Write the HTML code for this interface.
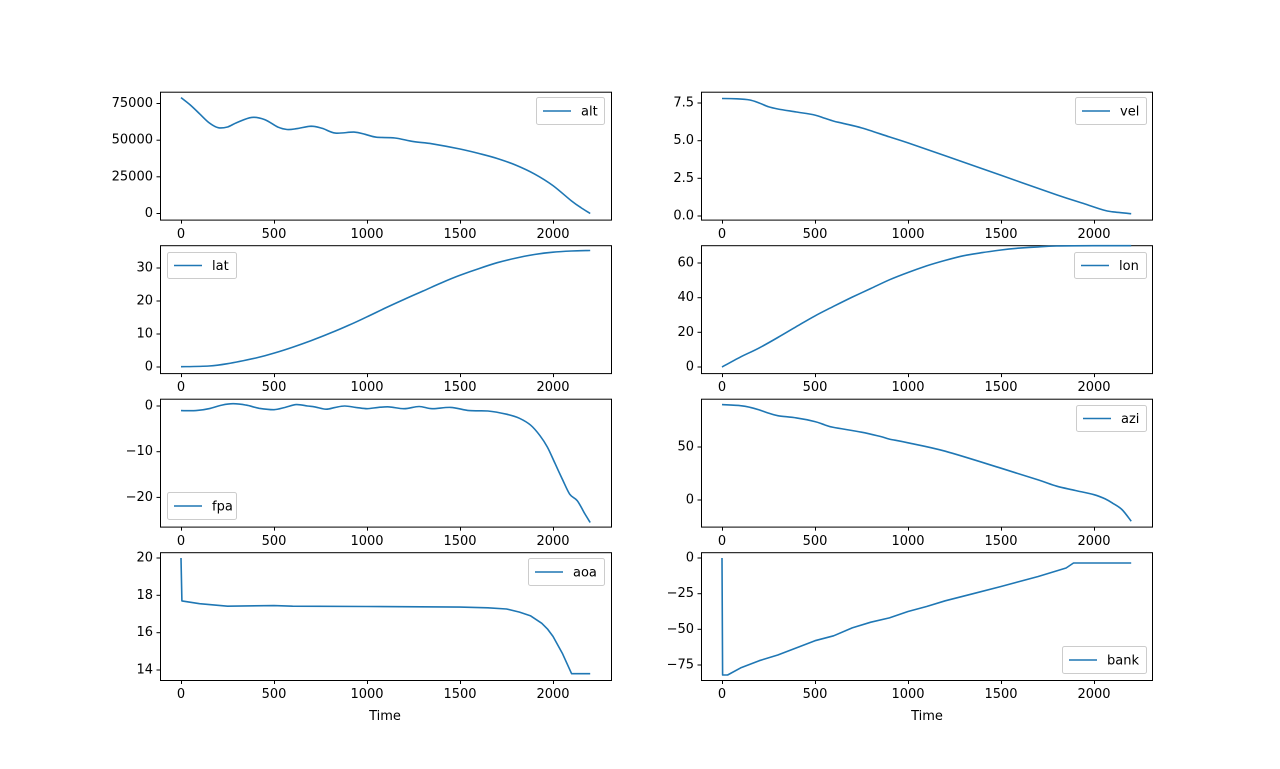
<!DOCTYPE html>
<html><head><meta charset="utf-8"><style>
body{margin:0;background:#fff}
svg text{font-family:"DejaVu Sans","Liberation Sans",sans-serif;font-size:13px;fill:#000}
.yl{text-anchor:end;dominant-baseline:middle}
.xl{text-anchor:middle}
</style></head><body>
<svg id="s" width="1280" height="764" xmlns="http://www.w3.org/2000/svg">
<g id="frames" fill="none" stroke="#000" stroke-width="1"></g>
<g id="ticks" stroke="#000" stroke-width="1"></g>
<g id="lines" fill="none" stroke="#1f77b4" stroke-width="1.6" stroke-linejoin="round"></g>
<g class="xl">
<text x="181" y="238" class="xl">0</text><text x="274" y="238" class="xl">500</text><text x="367" y="238" class="xl">1000</text><text x="460" y="238" class="xl">1500</text><text x="553" y="238" class="xl">2000</text>
<text x="722" y="238" class="xl">0</text><text x="815" y="238" class="xl">500</text><text x="908" y="238" class="xl">1000</text><text x="1001" y="238" class="xl">1500</text><text x="1094" y="238" class="xl">2000</text>
<text x="181" y="391" class="xl">0</text><text x="274" y="391" class="xl">500</text><text x="367" y="391" class="xl">1000</text><text x="460" y="391" class="xl">1500</text><text x="553" y="391" class="xl">2000</text>
<text x="722" y="391" class="xl">0</text><text x="815" y="391" class="xl">500</text><text x="908" y="391" class="xl">1000</text><text x="1001" y="391" class="xl">1500</text><text x="1094" y="391" class="xl">2000</text>
<text x="181" y="545" class="xl">0</text><text x="274" y="545" class="xl">500</text><text x="367" y="545" class="xl">1000</text><text x="460" y="545" class="xl">1500</text><text x="553" y="545" class="xl">2000</text>
<text x="722" y="545" class="xl">0</text><text x="815" y="545" class="xl">500</text><text x="908" y="545" class="xl">1000</text><text x="1001" y="545" class="xl">1500</text><text x="1094" y="545" class="xl">2000</text>
<text x="181" y="698" class="xl">0</text><text x="274" y="698" class="xl">500</text><text x="367" y="698" class="xl">1000</text><text x="460" y="698" class="xl">1500</text><text x="553" y="698" class="xl">2000</text>
<text x="722" y="698" class="xl">0</text><text x="815" y="698" class="xl">500</text><text x="908" y="698" class="xl">1000</text><text x="1001" y="698" class="xl">1500</text><text x="1094" y="698" class="xl">2000</text>
</g>
<text x="385" y="720" class="xl">Time</text><text x="927" y="720" class="xl">Time</text>
<text x="153" y="213.5" class="yl">0</text><text x="153" y="176.8" class="yl">25000</text><text x="153" y="140.2" class="yl">50000</text><text x="153" y="103.5" class="yl">75000</text>
<text x="694" y="216" class="yl">0.0</text><text x="694" y="178.3" class="yl">2.5</text><text x="694" y="140.7" class="yl">5.0</text><text x="694" y="103" class="yl">7.5</text>
<text x="153" y="367" class="yl">0</text><text x="153" y="334" class="yl">10</text><text x="153" y="301" class="yl">20</text><text x="153" y="268" class="yl">30</text>
<text x="694" y="367" class="yl">0</text><text x="694" y="332.3" class="yl">20</text><text x="694" y="297.7" class="yl">40</text><text x="694" y="263" class="yl">60</text>
<text x="153" y="406" class="yl">0</text><text x="153" y="451.7" class="yl">−10</text><text x="153" y="497.4" class="yl">−20</text>
<text x="694" y="500" class="yl">0</text><text x="694" y="447" class="yl">50</text>
<text x="153" y="670" class="yl">14</text><text x="153" y="632.7" class="yl">16</text><text x="153" y="595.3" class="yl">18</text><text x="153" y="558" class="yl">20</text>
<text x="694" y="558" class="yl">0</text><text x="694" y="593.7" class="yl">−25</text><text x="694" y="629.3" class="yl">−50</text><text x="694" y="665" class="yl">−75</text>
<g fill="#fff" stroke="#ccc" stroke-width="1">
<rect x="536.5" y="97.5" width="68" height="27" rx="2"/>
<rect x="1075.5" y="97.5" width="71" height="27" rx="2"/>
<rect x="167.5" y="252.5" width="69" height="26" rx="2"/>
<rect x="1074.5" y="252.5" width="72" height="26" rx="2"/>
<rect x="167.5" y="492.5" width="69" height="27" rx="2"/>
<rect x="1076.5" y="405.5" width="70" height="26" rx="2"/>
<rect x="528.5" y="558.5" width="76" height="27" rx="2"/>
<rect x="1062.5" y="646.5" width="84" height="27" rx="2"/>
</g>
<g stroke="#1f77b4" stroke-width="1.6">
<line x1="543" y1="111" x2="571" y2="111"/>
<line x1="1082" y1="111" x2="1110" y2="111"/>
<line x1="174" y1="265.5" x2="202" y2="265.5"/>
<line x1="1081" y1="265.5" x2="1109" y2="265.5"/>
<line x1="174" y1="506" x2="202" y2="506"/>
<line x1="1083" y1="418.5" x2="1111" y2="418.5"/>
<line x1="535" y1="572" x2="563" y2="572"/>
<line x1="1069" y1="660" x2="1097" y2="660"/>
</g>
<text x="581" y="115.5">alt</text>
<text x="1120" y="115.5">vel</text>
<text x="212" y="270">lat</text>
<text x="1119" y="270">lon</text>
<text x="212" y="510.5">fpa</text>
<text x="1121" y="423">azi</text>
<text x="573" y="576.5">aoa</text>
<text x="1107" y="664.5">bank</text>
</svg>
<script>
var ns="http://www.w3.org/2000/svg";
var rows=[[91.7,219.6],[245.2,373.1],[398.7,526.6],[552.2,680]];
var cols=[[160,611],[701,1152]];
var F=document.getElementById('frames'),T=document.getElementById('ticks'),L=document.getElementById('lines');
function el(p,t,a){var e=document.createElementNS(ns,t);for(var k in a)e.setAttribute(k,a[k]);p.appendChild(e);return e;}
var yt={ '0,0':[213.5,176.8,140.2,103.5],'0,1':[216,178.3,140.7,103],'1,0':[367,334,301,268],'1,1':[367,332.3,297.7,263],'2,0':[406,451.7,497.4],'2,1':[500,447],'3,0':[670,632.7,595.3,558],'3,1':[558,593.7,629.3,665]};
for(var r=0;r<4;r++)for(var c=0;c<2;c++){
 var R=rows[r],C=cols[c];
 el(F,'rect',{x:C[0]+.5,y:R[0]+.5,width:C[1]-C[0],height:R[1]-R[0]});
 var x0=c?722:181;
 for(var i=0;i<5;i++){var x=x0+i*93+.5;el(T,'line',{x1:x,x2:x,y1:R[1]+.5,y2:R[1]+4});}
 yt[r+','+c].forEach(function(y){el(T,'line',{x1:C[0]-3.5,x2:C[0]+.5,y1:y,y2:y});});
}
function plot(c,y0,v0,y1,v1,d,smooth){
 var x0=c?722:181,s=(y1-y0)/(v1-v0);
 var P=d.map(function(p){return [x0+p[0]*0.186,y0+(p[1]-v0)*s]});
 var dd='M'+P[0][0].toFixed(1)+','+P[0][1].toFixed(1);
 for(var i=0;i<P.length-1;i++){
  if(!smooth){dd+=' L'+P[i+1][0].toFixed(1)+','+P[i+1][1].toFixed(1);continue;}
  var p0=P[Math.max(i-1,0)],p1=P[i],p2=P[i+1],p3=P[Math.min(i+2,P.length-1)];
  var c1x=p1[0]+(p2[0]-p0[0])/6,c1y=p1[1]+(p2[1]-p0[1])/6,c2x=p2[0]-(p3[0]-p1[0])/6,c2y=p2[1]-(p3[1]-p1[1])/6;
  dd+=' C'+c1x.toFixed(1)+','+c1y.toFixed(1)+' '+c2x.toFixed(1)+','+c2y.toFixed(1)+' '+p2[0].toFixed(1)+','+p2[1].toFixed(1);
 }
 el(L,'path',{d:dd});
}
plot(0,213.5,0,103.5,75000,[[0,79000],[50,74000],[100,68000],[150,62000],[200,58500],[250,59000],[300,62000],[380,65500],[450,64000],[520,59000],[570,57300],[620,57800],[700,59500],[760,58000],[830,54800],[930,55500],[990,54000],[1050,52000],[1150,51500],[1250,49000],[1350,47500],[1500,44000],[1600,41000],[1700,37500],[1800,33000],[1900,27000],[2000,19000],[2100,8500],[2150,4000],[2200,0]],1);
plot(1,216,0,103,7.5,[[0,7.8],[80,7.78],[150,7.7],[200,7.5],[250,7.25],[300,7.1],[400,6.9],[500,6.7],[550,6.5],[600,6.3],[650,6.15],[750,5.85],[900,5.25],[1000,4.85],[1200,4.0],[1500,2.7],[1800,1.4],[1950,0.8],[2050,0.4],[2100,0.28],[2200,0.15]],1);
plot(0,367,0,268,30,[[0,0.1],[150,0.3],[250,1],[400,2.7],[500,4.2],[600,6],[700,8],[800,10.2],[900,12.6],[1000,15.2],[1100,17.9],[1200,20.5],[1300,23],[1400,25.5],[1500,27.8],[1600,29.8],[1700,31.6],[1800,33],[1900,34.1],[2000,34.8],[2100,35.15],[2200,35.3]],1);
plot(1,367,0,263,60,[[0,0],[100,5.8],[200,11],[300,17],[400,23.3],[500,29.5],[600,35],[700,40.3],[800,45.3],[900,50.3],[1000,54.5],[1100,58.3],[1200,61.5],[1300,64.2],[1400,66],[1500,67.5],[1600,68.6],[1700,69.3],[1800,69.8],[2000,70],[2200,70]],1);
plot(0,406,0,497.4,-20,[[0,-1],[80,-1],[150,-0.6],[220,0.2],[280,0.5],[350,0.2],[420,-0.5],[500,-0.8],[560,-0.3],[620,0.3],[680,0],[720,-0.2],[780,-0.7],[830,-0.3],[880,0],[940,-0.3],[1000,-0.6],[1060,-0.3],[1120,-0.2],[1200,-0.6],[1280,-0.1],[1350,-0.6],[1450,-0.3],[1550,-1],[1650,-1.1],[1750,-1.8],[1820,-2.7],[1880,-4.2],[1930,-6.5],[1970,-9],[2010,-12.5],[2050,-16],[2090,-19.3],[2130,-20.7],[2170,-23.5],[2200,-25.5]],1);
plot(1,500,0,447,50,[[0,90],[100,89],[150,87.5],[200,85],[250,82],[300,79.5],[400,77.5],[500,74],[550,71],[600,68.5],[750,64],[850,60],[900,57.5],[1000,54],[1200,46],[1500,30],[1700,19],[1800,13],[1900,9],[2000,5],[2060,1],[2100,-3],[2150,-9],[2200,-20]],1);
plot(0,670,14,558,20,[[0,20],[5,17.7],[100,17.55],[250,17.42],[500,17.45],[600,17.42],[1000,17.4],[1500,17.37],[1650,17.33],[1750,17.27],[1820,17.1],[1880,16.9],[1940,16.5],[1970,16.2],[2000,15.8],[2050,14.9],[2100,13.8],[2200,13.8]],0);
plot(1,558,0,665,-75,[[0,0],[3,-82],[30,-82],[100,-77],[200,-72],[300,-68],[400,-63],[500,-58],[600,-54.5],[700,-49],[800,-45],[900,-42],[1000,-37.5],[1100,-34],[1200,-30],[1350,-25],[1500,-20],[1700,-13],[1850,-7],[1890,-3.5],[2200,-3.5]],0);
</script>
</body></html>
